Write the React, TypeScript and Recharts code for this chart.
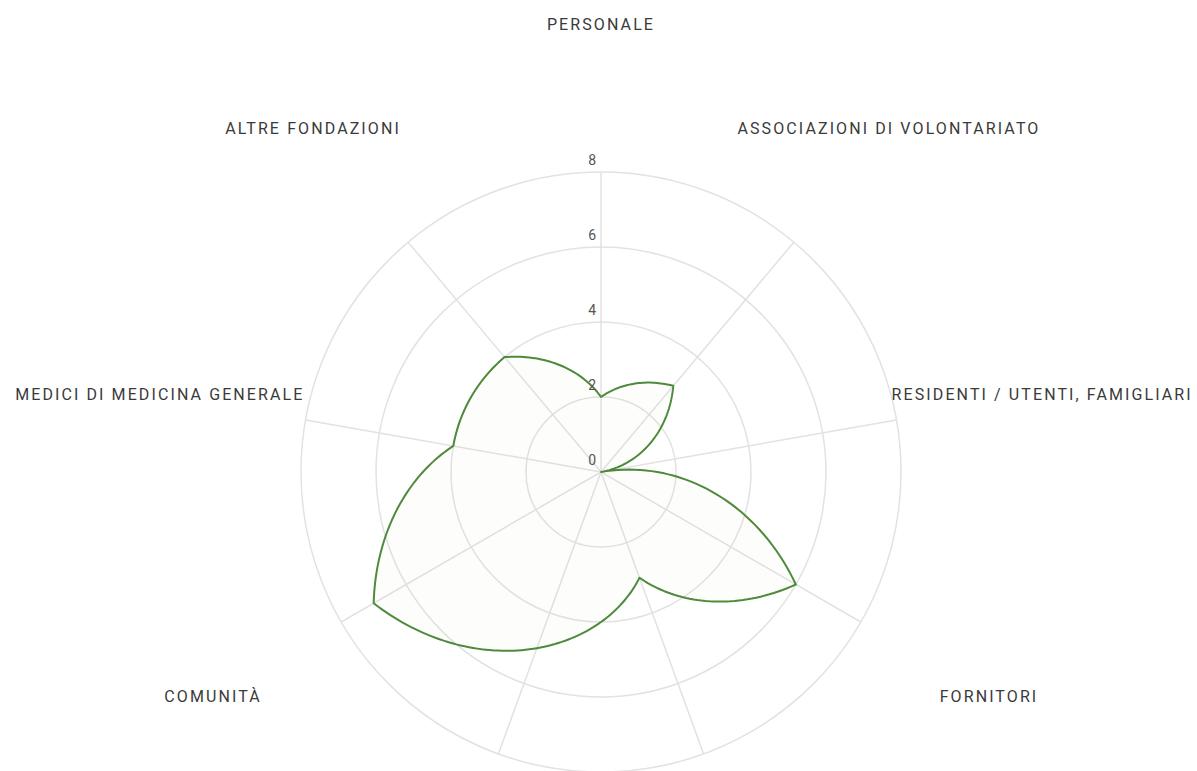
import React from 'react';
import { RadarChart, Radar, PolarGrid, PolarAngleAxis, PolarRadiusAxis } from 'recharts';

const categories = [
  'PERSONALE',
  'ASSOCIAZIONI DI VOLONTARIATO',
  'RESIDENTI / UTENTI, FAMIGLIARI',
  'FORNITORI',
  'ENTI PUBBLICI',
  'ISTITUZIONI',
  'COMUNITÀ',
  'MEDICI DI MEDICINA GENERALE',
  'ALTRE FONDAZIONI',
];
const values = [2, 3, 0, 6, 3, 5, 7, 4, 4];
const radiusTicks = [0, 2, 4, 6, 8];

const data = categories.map((name, i) => ({ name, value: values[i] }));

const CX = 601;
const CY = 472;
const OUTER = 300;
const LABEL_R = 448;
const RAD = Math.PI / 180;

function AngleTick(props: any) {
  const { payload } = props;
  const angle = payload.coordinate;
  const x = CX + LABEL_R * Math.cos(-angle * RAD);
  const y = CY + LABEL_R * Math.sin(-angle * RAD);
  return (
    <text x={x} y={y} dy={5.5} textAnchor="middle" fill="#3a3a3a" fontSize={16} letterSpacing={2.1} fontFamily="Roboto, sans-serif">
      {payload.value}
    </text>
  );
}

function RadiusTick(props: any) {
  const { x, y, payload } = props;
  return (
    <text x={x - 5} y={y - 7} textAnchor="end" fill="#555" fontSize={14} fontFamily="Roboto, sans-serif">
      {payload.value}
    </text>
  );
}

function SpiralShape(props: any) {
  const { points } = props;
  if (!points || points.length < 2) return null;
  const n = points.length;
  const cx = points[0].cx ?? CX;
  const cy = points[0].cy ?? CY;
  const delta = points[1].angle - points[0].angle;
  const steps = 40;
  let d = '';
  for (let i = 0; i < n; i++) {
    const p = points[i];
    const q = points[(i + 1) % n];
    const a0 = p.angle;
    const a1 = a0 + delta;
    for (let k = 0; k <= steps; k++) {
      if (i > 0 && k === 0) continue;
      const t = k / steps;
      const a = a0 + (a1 - a0) * t;
      const r = p.radius + (q.radius - p.radius) * t;
      const x = cx + r * Math.cos(-a * RAD);
      const y = cy + r * Math.sin(-a * RAD);
      d += (d === '' ? 'M' : 'L') + x.toFixed(2) + ',' + y.toFixed(2);
    }
  }
  d += 'Z';
  return (
    <path d={d} fill="#8bc34a" fillOpacity={0.02} stroke="#4f8a3c" strokeWidth={2} strokeLinejoin="round" />
  );
}

export default function App() {
  return (
    <div style={{ position: 'fixed', top: 0, left: 0, width: 1197, height: 771, overflow: 'hidden', background: '#fff' }}>
      <RadarChart width={1197} height={1000} data={data} cx={CX} cy={CY} outerRadius={OUTER} startAngle={90} endAngle={-270}>
        <PolarGrid gridType="circle" stroke="#e2e2e2" strokeWidth={1.5} />
        <PolarAngleAxis dataKey="name" tick={<AngleTick />} tickLine={false} axisLine={false} />
        <PolarRadiusAxis angle={90} domain={[0, 8]} ticks={radiusTicks} tickCount={5} axisLine={false} tick={<RadiusTick />} />
        <Radar dataKey="value" isAnimationActive={false} shape={<SpiralShape />} />
      </RadarChart>
    </div>
  );
}
